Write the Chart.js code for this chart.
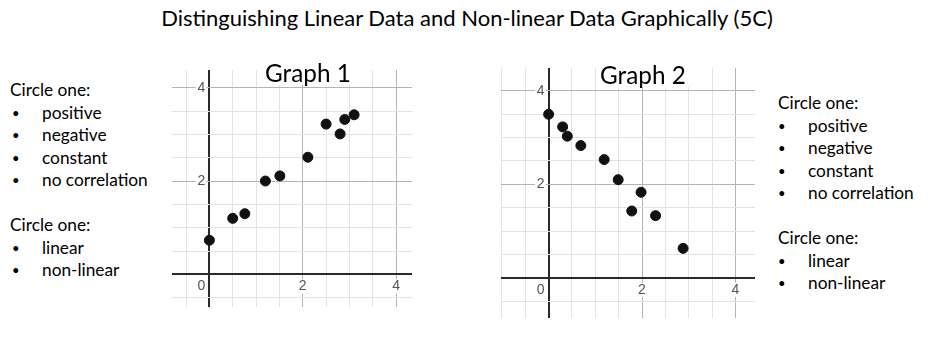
<!DOCTYPE html>
<html>
<head>
<meta charset="utf-8">
<script src="https://cdn.jsdelivr.net/npm/chart.js@4"></script>
<style>
  body { margin: 0; width: 934px; height: 343px; background: #fff; position: relative; overflow: hidden; font-family: Lato, "Open Sans", sans-serif; color: #000; }
  .title { position: absolute; left: 0; width: 934px; top: 4px; text-align: center; font-size: 22px; }
  .box { position: absolute; font-size: 17.3px; line-height: 22.5px; }
  .box ul { margin: 0; padding: 0; list-style: none; }
  .box li { position: relative; padding-left: 32px; }
  .box li::before { content: "\2022"; position: absolute; left: 2px; font-size: 13px; }
  .gap { height: 22.5px; }
  .gtitle { position: absolute; font-size: 24.3px; background: #fff; padding: 0 3px; line-height: 24px; }
  canvas { position: absolute; }
</style>
</head>
<body>
<div class="title">Distinguishing Linear Data and Non-linear Data Graphically (5C)</div>

<div class="box" style="left:10px; top:79px;">
  Circle one:
  <ul><li>positive</li><li>negative</li><li>constant</li><li>no correlation</li></ul>
  <div class="gap"></div>
  Circle one:
  <ul><li>linear</li><li>non-linear</li></ul>
</div>

<div class="box" style="left:778px; top:92px;">
  Circle one:
  <ul style="margin-left:-2px"><li>positive</li><li>negative</li><li>constant</li><li>no correlation</li></ul>
  <div class="gap"></div>
  Circle one:
  <ul style="margin-left:-2px"><li>linear</li><li>non-linear</li></ul>
</div>

<canvas id="graph1" style="left:172px; top:70px;"></canvas>
<canvas id="graph2" style="left:501px; top:68px;"></canvas>

<div class="gtitle" style="left:262px; top:61px;">Graph 1</div>
<div class="gtitle" style="left:597px; top:63px;">Graph 2</div>

<script>
// Graph 1 points (positive)
const g1X = [0, 0.5, 0.76, 1.2, 1.51, 2.11, 2.5, 2.8, 2.9, 3.1];
const g1Y = [0.73, 1.2, 1.3, 2.0, 2.11, 2.51, 3.22, 3.01, 3.32, 3.42];

// Graph 2 points (negative)
const g2X = [0, 0.3, 0.4, 0.69, 1.19, 1.49, 1.98, 1.78, 2.29, 2.88];
const g2Y = [3.5, 3.23, 3.03, 2.83, 2.53, 2.1, 1.83, 1.43, 1.33, 0.63];

// tick labels
const xLabels = [0, 2, 4];
const yLabels = [2, 4];

function gridColor(ctx) {
  const v = ctx.tick.value;
  if (Math.abs(v) < 1e-9) return '#2a2a2a';
  if (Math.abs(v % 2) < 1e-9) return '#b4b4b4';
  return '#e3e3e3';
}
function gridWidth(ctx) {
  return Math.abs(ctx.tick.value) < 1e-9 ? 2 : 1;
}

// draw desmos-style labels next to the axes
const axisLabels = {
  id: 'axisLabels',
  afterDraw(chart) {
    const c = chart.ctx;
    const xs = chart.scales.x, ys = chart.scales.y;
    const x0 = xs.getPixelForValue(0), y0 = ys.getPixelForValue(0);
    c.save();
    c.font = '14px "Liberation Sans", Arial, sans-serif';
    c.textBaseline = 'middle';
    xLabels.forEach(v => {
      const t = String(v);
      const w = c.measureText(t).width;
      let px = xs.getPixelForValue(v);
      if (v === 0) px = x0 - 8;
      const py = y0 + 12;
      c.fillStyle = '#fff';
      c.fillRect(px - w / 2 - 1, py - 7, w + 2, 14);
      c.fillStyle = '#555';
      c.textAlign = 'center';
      c.fillText(t, px, py);
    });
    yLabels.forEach(v => {
      const t = String(v);
      const w = c.measureText(t).width;
      const py = ys.getPixelForValue(v);
      const px = x0 - 4;
      c.fillStyle = '#fff';
      c.fillRect(px - w - 2, py - 7, w + 3, 14);
      c.fillStyle = '#555';
      c.textAlign = 'right';
      c.fillText(t, px, py);
    });
    c.restore();
  }
};

function makeGraph(id, xs, ys, w, h, xr, yr) {
  const canvas = document.getElementById(id);
  canvas.width = w;
  canvas.height = h;
  canvas.style.width = w + 'px';
  canvas.style.height = h + 'px';
  const axis = (r) => ({
    type: 'linear',
    min: r[0],
    max: r[1],
    border: { display: false },
    grid: { color: gridColor, lineWidth: gridWidth, drawTicks: false },
    ticks: { display: false, stepSize: 0.5, includeBounds: false, maxTicksLimit: 30, autoSkip: false }
  });
  new Chart(canvas, {
    type: 'scatter',
    data: {
      datasets: [{
        data: xs.map((x, i) => ({ x: x, y: ys[i] })),
        backgroundColor: '#111',
        borderColor: '#111',
        pointRadius: 5,
        pointHoverRadius: 5
      }]
    },
    options: {
      responsive: false,
      animation: false,
      layout: { padding: 0, autoPadding: false },
      plugins: { legend: { display: false }, tooltip: { enabled: false } },
      scales: { x: axis(xr), y: axis(yr) }
    },
    plugins: [axisLabels]
  });
}

makeGraph('graph1', g1X, g1Y, 240, 237, [-0.8, 4.34], [-0.7, 4.38]);
makeGraph('graph2', g2X, g2Y, 254, 250, [-1.02, 4.42], [-0.86, 4.49]);
</script>
</body>
</html>
